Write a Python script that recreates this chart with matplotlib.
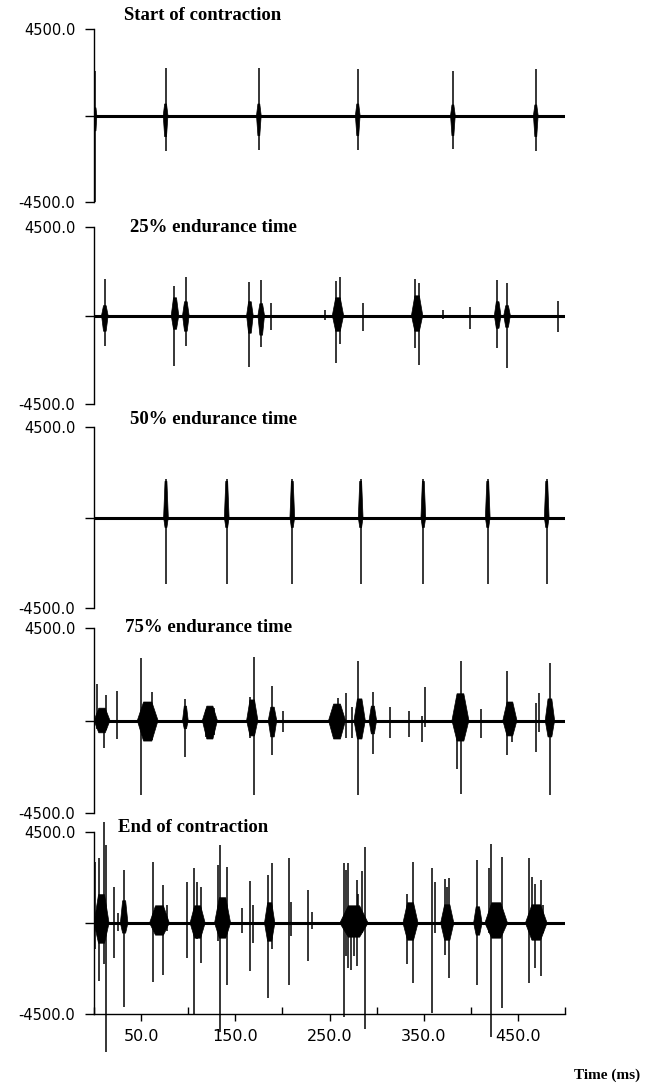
import matplotlib
matplotlib.use('Agg')
import matplotlib.pyplot as plt
from matplotlib.ticker import FixedLocator

# panel titles
titles = ['Start of contraction', '25% endurance time', '50% endurance time',
          '75% endurance time', 'End of contraction']

# single spikes per panel: (time ms, positive peak, negative peak)
p1_spikes = [(1, 2300, -4500), (76, 2450, -1850), (175, 2450, -1800),
             (280, 2400, -1800), (381, 2300, -1750), (469, 2400, -1850)]
p2_spikes = [(12, 1870, -1550), (85, 1500, -2560), (97.5, 1970, -1570),
             (165, 1690, -2600), (177, 1820, -1600), (188, 640, -760),
             (245, 300, -250), (257, 1740, -2400), (261.5, 1960, -1470),
             (285.5, 640, -790), (341, 1860, -1670), (345.5, 1650, -2510),
             (370.5, 300, -200), (399, 440, -710), (428, 1820, -1670),
             (438.5, 1650, -2650), (492.5, 720, -830)]
p3_spikes = [(76.4, 1900, -3300), (140.9, 1900, -3300), (210.5, 1900, -3300),
             (283.1, 1900, -3300), (349.6, 1900, -3300), (418, 1900, -3300),
             (480.6, 1900, -3300)]
p4_spikes = [(3, 1780, -400), (10.5, 520, -1360), (13, 1230, -440), (24, 1420, -910),
             (49.5, 3020, -3640), (62, 1370, -950), (97, 1060, -1760), (119, 520, -780),
             (127, 600, -700), (166, 1130, -870), (170, 3100, -3610), (188.5, 1670, -1680),
             (201, 470, -540), (259, 1090, -370), (267, 1340, -870), (274, 640, -870),
             (280.5, 2890, -3640), (296, 1370, -1630), (314, 640, -870), (334, 440, -780),
             (348.5, 200, -1030), (351, 1620, -300), (385, 1090, -2340), (390, 2890, -3560),
             (411, 550, -870), (438, 2400, -1680), (444, 770, -1030), (469, 850, -1520),
             (472.5, 1340, -540), (484, 2810, -3640)]
p5_spikes = [(1, 3030, -1280), (5.3, 3200, -2880), (10.6, 5000, -2050), (12.7, 3860, -6400),
             (21, 1780, -1720), (25, 500, -380), (32, 2620, -4130), (63, 3030, -2920),
             (73, 1860, -2550), (77, 900, -380), (98.5, 2030, -1720), (106, 2700, -4500),
             (109, 2030, -800), (113.5, 1780, -1970), (132, 2870, -880), (134, 3870, -5380),
             (141, 2780, -3050), (157, 730, -470), (165.5, 2060, -2380), (169, 870, -970),
             (185, 2370, -3720), (188.5, 2950, -1300), (207, 3200, -3050), (209, 1030, -640),
             (227.5, 1620, -1880), (231, 530, -300), (265.5, 2950, -4630), (267.5, 2620, -1630),
             (270, 2950, -2220), (272.5, 780, -2300), (276, 780, -1630), (279, 2120, -2130),
             (280.5, 1450, -500), (285, 2570, -500), (287.5, 3780, -5220), (332, 1450, -2050),
             (339, 3000, -2970), (359, 2730, -4430), (362, 2030, -500), (372.5, 2200, -1600),
             (374.5, 1780, -800), (377, 2230, -2720), (407, 3120, -3050), (419.5, 2700, -500),
             (421.5, 3900, -5630), (433.5, 3280, -4220), (462, 3200, -2970), (464.5, 2280, -500),
             (468, 1950, -2220), (474, 2150, -2630), (477, 870, -500)]

# dense activity (bursts): (start ms, end ms, upper, lower)
p1_bursts = [(0, 3, 400, -800), (73.5, 78.5, 600, -1100), (172.5, 177.5, 600, -1050),
             (277.5, 282.5, 600, -1050), (378.5, 383.5, 550, -1050), (466.5, 471.5, 550, -1100)]
p2_bursts = [(8, 15, 500, -800), (82, 90, 900, -700), (94, 101, 700, -800),
             (162, 169, 700, -900), (174, 181, 600, -1000), (253, 265, 900, -800),
             (337, 349, 1000, -800), (425, 432, 700, -650), (435, 442, 500, -600)]
p3_bursts = [(73.9, 78.9, 1800, -500), (138.4, 143.4, 1800, -500), (208, 213, 1800, -500),
             (280.6, 285.6, 1800, -500), (347.1, 352.1, 1800, -500), (415.5, 420.5, 1800, -500),
             (478.1, 483.1, 1800, -500)]
p4_bursts = [(0, 17, 600, -600), (46, 68, 900, -1000), (94, 100, 700, -400), (115, 131, 700, -900),
             (162, 174, 1000, -750), (185, 194, 650, -800), (249, 267, 800, -900),
             (276, 288, 1050, -900), (292, 300, 700, -650), (380, 398, 1300, -1000),
             (434, 449, 900, -750), (479, 489, 1050, -800)]
p5_bursts = [(0, 16, 1400, -1000), (28, 36, 1100, -500), (59, 80, 850, -600), (102, 118, 850, -750),
             (128, 145, 1250, -750), (181, 192, 1000, -900), (261, 291, 850, -700),
             (328, 344, 1000, -850), (368, 382, 900, -850), (403, 412, 800, -600),
             (415, 439, 1000, -750), (458, 481, 900, -850)]

x_ticks = [50, 150, 250, 350, 450]
x_minor = [0, 100, 200, 300, 400, 500]

panels = [(p1_spikes, p1_bursts), (p2_spikes, p2_bursts), (p3_spikes, p3_bursts),
          (p4_spikes, p4_bursts), (p5_spikes, p5_bursts)]

W, H = 645, 1089
rows_px = [(29, 202), (227, 404), (427, 608), (628, 813), (832, 1014)]
title_px = [(124, 15), (130, 227), (130, 420), (125, 628), (118, 827)]

fig = plt.figure(figsize=(W / 100, H / 100), dpi=100)

for i, (spikes, bursts) in enumerate(panels):
    top, bot = rows_px[i]
    ax = fig.add_axes([94 / W, 1 - bot / H, 471 / W, (bot - top) / H])
    ax.set_xlim(0, 500)
    ax.set_ylim(-4500, 4500)

    ax.plot([0, 500], [0, 0], color='black', lw=2.2, solid_capstyle='butt')
    ax.vlines([s[0] for s in spikes], [s[2] for s in spikes], [s[1] for s in spikes],
              color='black', lw=1.1, clip_on=False)
    # burst envelopes as spindle shapes
    for t0, t1, hi, lo in bursts:
        q = 0.3 * (t1 - t0)
        ax.fill([t0, t0 + q, t1 - q, t1, t1 - q, t0 + q],
                [0, hi, hi, 0, lo, lo], color='black', lw=0.5)

    for side in ['top', 'right']:
        ax.spines[side].set_visible(False)
    ax.spines['left'].set_linewidth(1.0)

    ax.set_yticks([-4500, 0, 4500])
    ax.set_yticklabels(['-4500.0', '', '4500.0'])
    ax.tick_params(axis='y', direction='out', length=6.5, width=1, pad=7, labelsize=10.5)

    if i < 4:
        ax.spines['bottom'].set_visible(False)
        ax.set_xticks([])
    else:
        ax.spines['bottom'].set_linewidth(1.0)
        ax.set_xticks(x_ticks)
        ax.set_xticklabels([f'{v:.1f}' for v in x_ticks])
        ax.xaxis.set_minor_locator(FixedLocator(x_minor))
        ax.tick_params(axis='x', which='major', direction='out', length=5, width=1,
                       pad=6, labelsize=11.5)
        ax.tick_params(axis='x', which='minor', direction='in', length=5, width=1)

    tx, ty = title_px[i]
    fig.text(tx / W, 1 - ty / H, titles[i], family='Liberation Serif',
             fontweight='bold', fontsize=13.5, ha='left', va='center')

fig.text(640 / W, 1 - 1075 / H, 'Time (ms)', family='Liberation Serif',
         fontweight='bold', fontsize=11, ha='right', va='center')

fig.savefig('out.png', dpi=100)
